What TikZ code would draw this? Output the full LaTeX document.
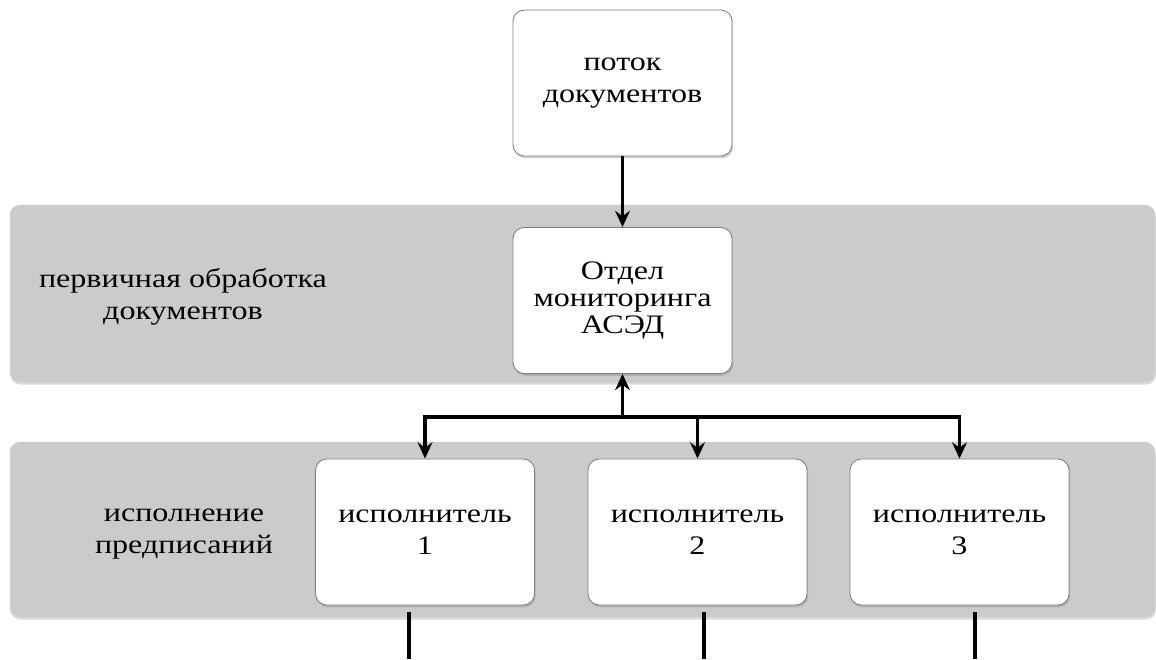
\documentclass[tikz,border=0pt]{standalone}
\usepackage{fontspec}
\setmainfont[FakeStretch=1.2]{Liberation Serif}
\usetikzlibrary{arrows.meta,shadows}
\definecolor{bandgray}{RGB}{203,203,203}
\definecolor{edgegray}{RGB}{125,125,125}

\begin{document}
\begin{tikzpicture}[x=0.025cm, y=-0.025cm,
    font=\fontsize{19}{23}\selectfont,
    band/.style={fill=bandgray, rounded corners=7pt, minimum width=28.625cm,
        drop shadow={shadow xshift=0.5pt, shadow yshift=-1.8pt, opacity=0.3}},
    box/.style={draw=edgegray, line width=0.6pt, fill=white, rounded corners=8pt,
        minimum width=5.475cm, minimum height=3.65cm, align=center,
        drop shadow={shadow xshift=0.8pt, shadow yshift=-1.6pt, opacity=0.35}},
    lbl/.style={align=center},
    conn/.style={line width=2.6pt},
    arr/.style={conn, -{Stealth[length=11.5pt, width=10.5pt]}}]
    \useasboundingbox (0,0) rectangle (1156,659);

    % Bands
    \node[band, minimum height=4.425cm] (band1) at (582.5,293.5) {};
    \node[band, minimum height=4.375cm] (band2) at (582.5,529.5) {};
    \node[lbl] (stage1) at (183,297) {первичная обработка\\документов};
    \node[lbl] (stage2) at (184,534) {исполнение\\предписаний};

    % Boxes
    \node[box] (flow) at (622.5,83) {поток\\документов};
    \node[box, font=\fontsize{19}{19.5}\selectfont] (dept) at (622.5,300.5) {Отдел\\мониторинга\\АСЭД};
    \node[box] (ex1) at (425,532) {исполнитель\\1};
    \node[box] (ex2) at (697.5,532) {исполнитель\\2};
    \node[box] (ex3) at (959.5,532) {исполнитель\\3};

    % Arrows
    \draw[arr] (flow) -- (dept);
    \coordinate (fork) at (622.5,417);
    \draw[arr] (fork) -- (dept);
    \draw[arr] (fork) -| (ex1);
    \draw[arr] (fork) -| (ex2);
    \draw[arr] (fork) -| (ex3);

    % Outgoing lines
    \foreach \i/\x in {1/409,2/704,3/975} {
        \coordinate (top\i) at (\x,612);
        \coordinate (end\i) at (\x,659);
        \draw[conn] (top\i) -- (end\i);
    }
\end{tikzpicture}
\end{document}
